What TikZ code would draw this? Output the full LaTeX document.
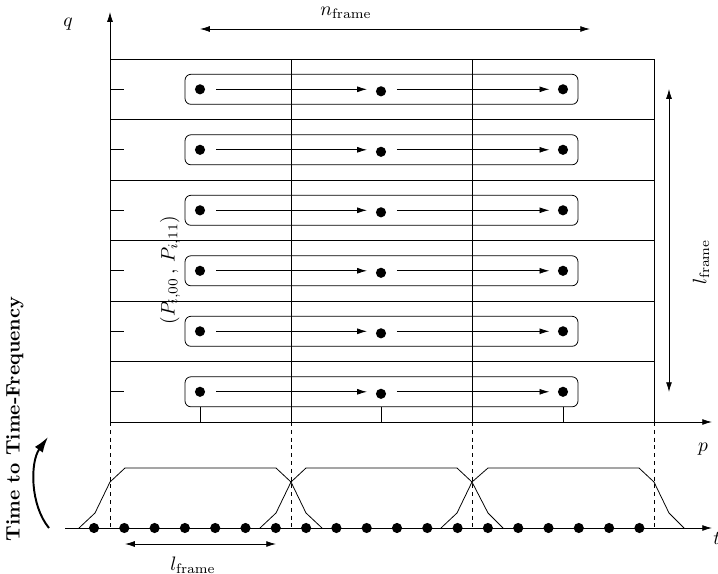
\documentclass[tikz,border=0pt]{standalone}
\usetikzlibrary{arrows.meta}
\begin{document}
\begin{tikzpicture}[x=0.5128pt,y=-0.5128pt,
  every node/.style={inner sep=0pt},
  dot/.style={circle,fill=black,inner sep=0pt,minimum size=5.2pt},
  rbox/.style={draw,rounded corners=3pt,minimum width=201.5pt,minimum height=15.4pt,inner sep=0pt},
  flow/.style={-{Latex[length=5pt,width=3pt]}},
  dimarr/.style={{Latex[length=5pt,width=3pt]}-{Latex[length=5pt,width=3pt]}},
  axarr/.style={-{Latex[length=5pt,width=3pt]}},
  guide/.style={dash pattern=on 2pt off 2pt},
  lab/.style={font=\normalsize},
]
\useasboundingbox (0,0) rectangle (718,574);

% axes
\coordinate (O) at (110,422);
\coordinate (qtop) at (110,12);
\coordinate (pend) at (712,422);
\draw[axarr] (O) -- (qtop);
\draw[axarr] (O) -- (pend);
\node[lab] (qlab) at (68,24) {$q$};
\node[lab] (plab) at (703,449) {$p$};

% grid
\draw (110,59) -- (654,59) -- (654,422);
\draw (291,59) -- (291,422);
\draw (472,59) -- (472,422);
\foreach \y in {119.5,180,240.5,301,361.5}{
  \draw (110,\y) -- (654,\y);
}

% rows
\foreach \k/\c in {1/89.3,2/149.8,3/210.3,4/270.8,5/331.3,6/391.8}{
  \draw (110,\c) -- (124,\c);
  \node[rbox] (b\k) at (381.5,\c) {};
  \node[dot] (a\k) at (200,\c) {};
  \node[dot] (m\k) at (381,\c+2) {};
  \node[dot] (z\k) at (563,\c) {};
  \coordinate (r\k) at (a\k -| m\k);
  \draw[flow,shorten <=5.6pt,shorten >=7.2pt] (a\k) -- (r\k);
  \draw[flow,shorten <=8.2pt,shorten >=4.2pt] (r\k) -- (z\k);
}

% ticks from bottom box to p axis
\draw (b6.south -| a6) -- (a6 |- O);
\draw (b6.south -| m6) -- (m6 |- O);
\draw (b6.south -| z6) -- (z6 |- O);

% dimension arrows
\coordinate (nL) at (200,29);
\coordinate (nR) at (590,29);
\draw[dimarr] (nL) -- (nR);
\node[lab] (nlab) at (346,13) {$n_{\mathrm{frame}}$};

\coordinate (lT) at (669,89);
\coordinate (lB) at (669,392);
\draw[dimarr] (lT) -- (lB);
\node[lab,rotate=90] (lrlab) at (701,262) {$l_{\mathrm{frame}}$};

\node[lab,rotate=90] (plab2) at (170,270) {$(P_{i,00}\,,\,P_{i,11})$};

% time axis
\coordinate (tS) at (65,528);
\coordinate (tE) at (712,528);
\draw[axarr] (tS) -- (tE);
\node[lab] (tlab) at (717,538) {$t$};
\foreach \i in {0,...,18}{
  \node[dot] (t\i) at ({94+30.3*\i},528) {};
}

% dashed guides
\foreach \x in {110,291,472,654}{
  \draw[guide] (\x,422) -- (\x,528);
}

% windows
\draw (79,528) -- (95,513) -- (110,482) -- (125,468) -- (276,468) -- (291,482) -- (306,513) -- (322,528);
\draw (260,528) -- (276,513) -- (291,482) -- (306,468) -- (457,468) -- (472,482) -- (488,513) -- (503,528);
\draw (441,528) -- (457,513) -- (472,482) -- (488,468) -- (639,468) -- (654,482) -- (669,513) -- (684,528);

% bottom l_frame
\coordinate (bL) at (125,544);
\coordinate (bR) at (276,544);
\draw[dimarr] (bL) -- (bR);
\node[lab] (lblab) at (193,565) {$l_{\mathrm{frame}}$};

% curved arrow and label
\coordinate (cS) at (49,528);
\coordinate (cE) at (48,437);
\draw[line width=1pt,-{Latex[length=8pt,width=5pt]}] (cS) .. controls (30,505) and (30,462) .. (cE);
\node[lab,rotate=90] (ttf) at (15,419) {\textbf{Time to Time-Frequency}};
\end{tikzpicture}
\end{document}
